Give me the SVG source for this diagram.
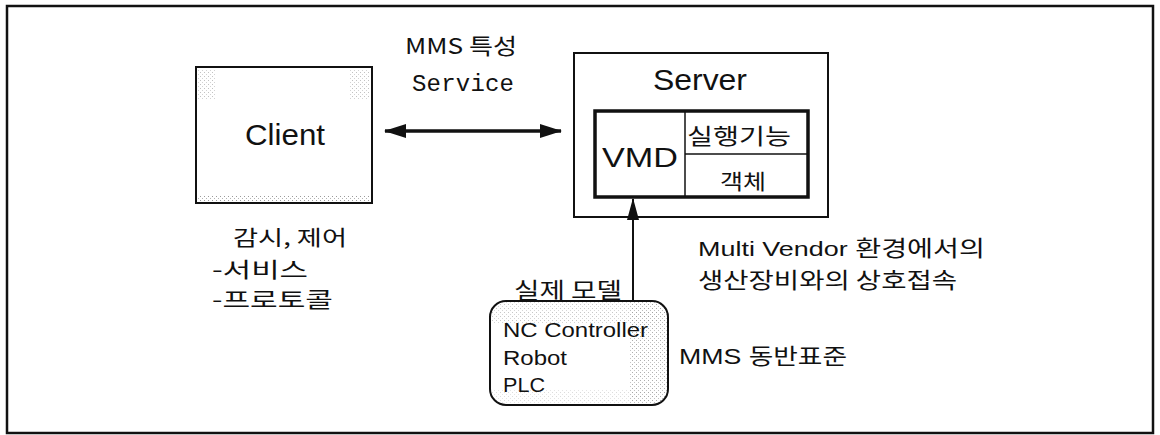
<svg xmlns="http://www.w3.org/2000/svg" width="1160" height="435" viewBox="0 0 1160 435">
  <style>
    .frame { fill: none; stroke: #111; stroke-width: 2.5; }
    .box { fill: #fff; stroke: #111; stroke-width: 2; }
    .thick { fill: #fff; stroke: #111; stroke-width: 3.5; }
    .thin { stroke: #111; stroke-width: 1.5; fill: none; }
    .en { font-family: "Liberation Sans", Arial, sans-serif; fill: #111; }
    .ko { font-family: "Noto Sans CJK KR", "Liberation Sans", sans-serif; fill: #111; }
    .mono { font-family: "Liberation Mono", "Courier New", monospace; fill: #111; }
    .conn { stroke: #111; fill: none; }
  </style>
  <defs>
    <pattern id="stipple" width="4" height="4" patternUnits="userSpaceOnUse">
      <rect x="0" y="0" width="1" height="1" fill="#9a9a9a"/>
      <rect x="2" y="2" width="1" height="1" fill="#b5b5b5"/>
    </pattern>
    <marker id="head" viewBox="0 0 22 14" refX="21" refY="7" markerWidth="22" markerHeight="14" markerUnits="userSpaceOnUse" orient="auto-start-reverse">
      <path d="M0,0 L22,7 L0,14 Z" fill="#111"/>
    </marker>
    <marker id="headUp" viewBox="0 0 22 12" refX="21" refY="6" markerWidth="22" markerHeight="12" markerUnits="userSpaceOnUse" orient="auto">
      <path d="M0,0 L22,6 L0,12 Z" fill="#111"/>
    </marker>
    <clipPath id="roundClip">
      <rect x="490" y="301" width="178" height="104" rx="16" ry="16"/>
    </clipPath>
  </defs>

  <rect x="0" y="0" width="1160" height="435" fill="#fff"/>
  <rect class="frame" x="7" y="6" width="1146" height="427"/>

  <!-- Client -->
  <g id="client">
    <rect class="box" x="196" y="67" width="176" height="136"/>
    <rect x="198" y="69" width="18" height="30" fill="url(#stipple)" opacity="0.6"/>
    <rect x="350" y="69" width="20" height="30" fill="url(#stipple)" opacity="0.6"/>
    <rect x="198" y="195" width="172" height="6" fill="url(#stipple)"/>
    <text class="en" x="245" y="145" font-size="30" textLength="80" lengthAdjust="spacingAndGlyphs">Client</text>
  </g>

  <!-- Client role labels -->
  <g id="client-notes">
    <text class="ko" x="233" y="245" font-size="21" textLength="114" lengthAdjust="spacingAndGlyphs">감시, 제어</text>
    <text class="ko" x="212" y="277" font-size="21" textLength="96" lengthAdjust="spacingAndGlyphs">-서비스</text>
    <text class="ko" x="212" y="307" font-size="21" textLength="121" lengthAdjust="spacingAndGlyphs">-프로토콜</text>
  </g>

  <!-- Service label -->
  <g id="service-label">
    <text class="ko" x="405" y="54" font-size="22" textLength="112" lengthAdjust="spacingAndGlyphs">MMS 특성</text>
    <text class="mono" x="412" y="91" font-size="24" textLength="102">Service</text>
  </g>

  <!-- Server with VMD -->
  <g id="server">
    <rect class="box" x="574" y="53" width="254" height="164" stroke-width="1.6"/>
    <text class="en" x="653" y="90" font-size="30" textLength="94" lengthAdjust="spacingAndGlyphs">Server</text>
    <rect class="thick" x="595" y="111" width="213" height="86"/>
    <line class="thin" x1="685" y1="111" x2="685" y2="197"/>
    <line class="thin" x1="685" y1="154" x2="808" y2="154"/>
    <text class="en" x="602" y="167" font-size="28" textLength="76" lengthAdjust="spacingAndGlyphs">VMD</text>
    <text class="ko" x="687" y="144" font-size="22" textLength="104" lengthAdjust="spacingAndGlyphs">실행기능</text>
    <text class="ko" x="720" y="189" font-size="21" textLength="46" lengthAdjust="spacingAndGlyphs">객체</text>
  </g>

  <!-- Real devices -->
  <g id="devices">
    <rect x="490" y="301" width="178" height="104" rx="16" ry="16" fill="#fff"/>
    <g clip-path="url(#roundClip)">
      <rect x="490" y="301" width="178" height="22" fill="url(#stipple)" opacity="0.55"/>
      <rect x="630" y="301" width="38" height="104" fill="url(#stipple)" opacity="0.8"/>
      <rect x="490" y="390" width="178" height="15" fill="url(#stipple)" opacity="0.35"/>
    </g>
    <rect x="490" y="301" width="178" height="104" rx="16" ry="16" fill="none" stroke="#111" stroke-width="2"/>
    <text class="en" x="503" y="337" font-size="20" textLength="145" lengthAdjust="spacingAndGlyphs">NC Controller</text>
    <text class="en" x="503" y="365" font-size="20" textLength="64" lengthAdjust="spacingAndGlyphs">Robot</text>
    <text class="en" x="503" y="392" font-size="20" textLength="42" lengthAdjust="spacingAndGlyphs">PLC</text>
  </g>

  <!-- Other labels -->
  <g id="labels">
    <text class="ko" x="514" y="298" font-size="22" textLength="108" lengthAdjust="spacingAndGlyphs">실제 모델</text>
    <text class="en" x="698" y="256" font-size="21" textLength="287" lengthAdjust="spacingAndGlyphs">Multi Vendor <tspan class="ko" font-size="22">환경에서의</tspan></text>
    <text class="ko" x="698" y="288" font-size="22" textLength="259" lengthAdjust="spacingAndGlyphs">생산장비와의 상호접속</text>
    <text class="en" x="679" y="364" font-size="22" textLength="168" lengthAdjust="spacingAndGlyphs">MMS <tspan class="ko" font-size="22">동반표준</tspan></text>
  </g>

  <!-- Connectors -->
  <g id="connectors">
    <line class="conn" x1="385" y1="131" x2="561" y2="131" stroke-width="3.5" marker-start="url(#head)" marker-end="url(#head)"/>
    <line class="conn" x1="633" y1="301" x2="633" y2="199" stroke-width="2" marker-end="url(#headUp)"/>
  </g>
</svg>
